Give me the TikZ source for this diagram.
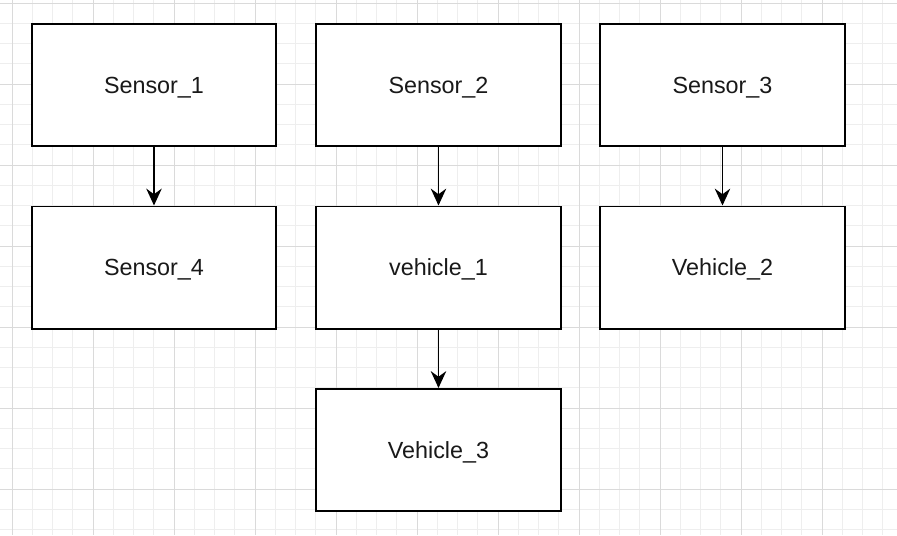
\documentclass[tikz,border=0pt]{standalone}
\usepackage{fontspec}
\setmainfont{Liberation Sans}
\usetikzlibrary{arrows.meta}
\definecolor{minorgrid}{HTML}{EEEEEE}
\definecolor{majorgrid}{HTML}{DADADA}
\tikzset{
  box/.style={draw=black, line width=1.4pt, fill=white, minimum width=6.1cm, minimum height=3.05cm, text depth=0pt, font=\fontsize{16.6}{20}\selectfont, text=black!90},
  link/.style={-{Stealth[length=12pt, width=11pt, inset=4pt]}, line width=1.3pt}
}
\begin{document}
\begin{tikzpicture}[x=0.025cm, y=-0.025cm]
         \useasboundingbox[fill=white] (0,0) rectangle (897,535);
         % grid
         \foreach \k in {0,...,43} \draw[minorgrid, line width=0.6pt] (12+20.25*\k,0) -- (12+20.25*\k,535);
         \foreach \k in {0,...,26} \draw[minorgrid, line width=0.6pt] (0,3+20.25*\k) -- (897,3+20.25*\k);
         \foreach \k in {0,...,10} \draw[majorgrid, line width=0.7pt] (12+81*\k,0) -- (12+81*\k,535);
         \foreach \k in {0,...,6} \draw[majorgrid, line width=0.7pt] (0,3+81*\k) -- (897,3+81*\k);
         % boxes
         \node[box] (sensorone) at (154,85) {Sensor\_1};
         \node[box] (sensortwo) at (438.5,85) {Sensor\_2};
         \node[box] (sensorthree) at (722.5,85) {Sensor\_3};
         \node[box] (sensorfour) at (154,267.5) {Sensor\_4};
         \node[box] (vehicleone) at (438.5,267.5) {vehicle\_1};
         \node[box] (vehicletwo) at (722.5,267.5) {Vehicle\_2};
         \node[box] (vehiclethree) at (438.5,450) {Vehicle\_3};
         % arrows
         \draw[link] (sensorone) -- (sensorfour);
         \draw[link] (sensortwo) -- (vehicleone);
         \draw[link] (sensorthree) -- (vehicletwo);
         \draw[link] (vehicleone) -- (vehiclethree);
      \end{tikzpicture}
\end{document}
